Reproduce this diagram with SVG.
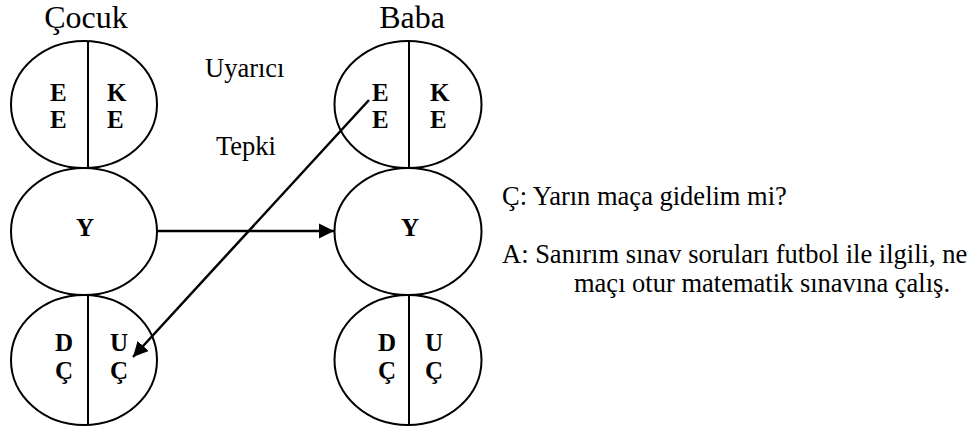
<svg xmlns="http://www.w3.org/2000/svg" width="978" height="428" viewBox="0 0 978 428">
<style>
.sh{fill:none;stroke:#000;stroke-width:2}
.t{font-family:"Liberation Serif","Times New Roman",serif;font-size:26.5px;fill:#000}
.title{font-family:"Liberation Serif","Times New Roman",serif;font-size:32px;fill:#000;text-anchor:middle}
.b{font-family:"Liberation Serif","Times New Roman",serif;font-size:25px;font-weight:bold;fill:#000}
.c{stroke:#000;stroke-width:2.5;fill:none}
</style>
<defs>
<marker id="ah" markerWidth="16" markerHeight="16" refX="15" refY="8" orient="auto" markerUnits="userSpaceOnUse">
<path d="M0,0.5 L15,8 L0,15.5 Z" fill="#000"/>
</marker>
</defs>
<rect width="978" height="428" fill="#fff"/>
<text class="title" x="86" y="28">Çocuk</text>
<text class="title" x="412" y="28">Baba</text>
<text class="t" x="205" y="77">Uyarıcı</text>
<text class="t" x="216" y="155">Tepki</text>
<g id="cocuk-top">
<ellipse class="sh" cx="84" cy="104.5" rx="73" ry="63.5"/>
<line class="sh" x1="88" y1="41" x2="88" y2="168"/>
<text class="b" x="50" y="101">E</text><text class="b" x="50" y="128">E</text>
<text class="b" x="107" y="101">K</text><text class="b" x="107" y="128">E</text>
</g>
<g id="cocuk-y">
<ellipse class="sh" cx="84" cy="231.5" rx="73" ry="63.5"/>
<text class="b" x="85" y="236" text-anchor="middle">Y</text>
</g>
<g id="cocuk-bottom">
<ellipse class="sh" cx="84" cy="360" rx="73" ry="65"/>
<line class="sh" x1="88" y1="295" x2="88" y2="425"/>
<text class="b" x="55" y="351">D</text><text class="b" x="55" y="379">Ç</text>
<text class="b" x="110" y="351">U</text><text class="b" x="110" y="379">Ç</text>
</g>
<g id="baba-top">
<ellipse class="sh" cx="408" cy="104.5" rx="73.5" ry="63.5"/>
<line class="sh" x1="409" y1="41" x2="409" y2="168"/>
<text class="b" x="372" y="101">E</text><text class="b" x="372" y="128">E</text>
<text class="b" x="430" y="101">K</text><text class="b" x="430" y="128">E</text>
</g>
<g id="baba-y">
<ellipse class="sh" cx="408" cy="231.5" rx="73.5" ry="63.5"/>
<text class="b" x="410" y="236" text-anchor="middle">Y</text>
</g>
<g id="baba-bottom">
<ellipse class="sh" cx="408" cy="360" rx="73.5" ry="65"/>
<line class="sh" x1="409" y1="295" x2="409" y2="425"/>
<text class="b" x="378" y="351">D</text><text class="b" x="378" y="379">Ç</text>
<text class="b" x="425" y="351">U</text><text class="b" x="425" y="379">Ç</text>
</g>
<g id="connectors">
<line class="c" x1="157" y1="231" x2="334" y2="231" marker-end="url(#ah)"/>
<line class="c" x1="369" y1="100" x2="133" y2="357" marker-end="url(#ah)"/>
</g>
<g id="dialogue">
<text class="t" x="502" y="205">Ç: Yarın maça gidelim mi?</text>
<text class="t" x="502" y="263">A: Sanırım sınav soruları futbol ile ilgili, ne</text>
<text class="t" x="574" y="292">maçı otur matematik sınavına çalış.</text>
</g>
</svg>
